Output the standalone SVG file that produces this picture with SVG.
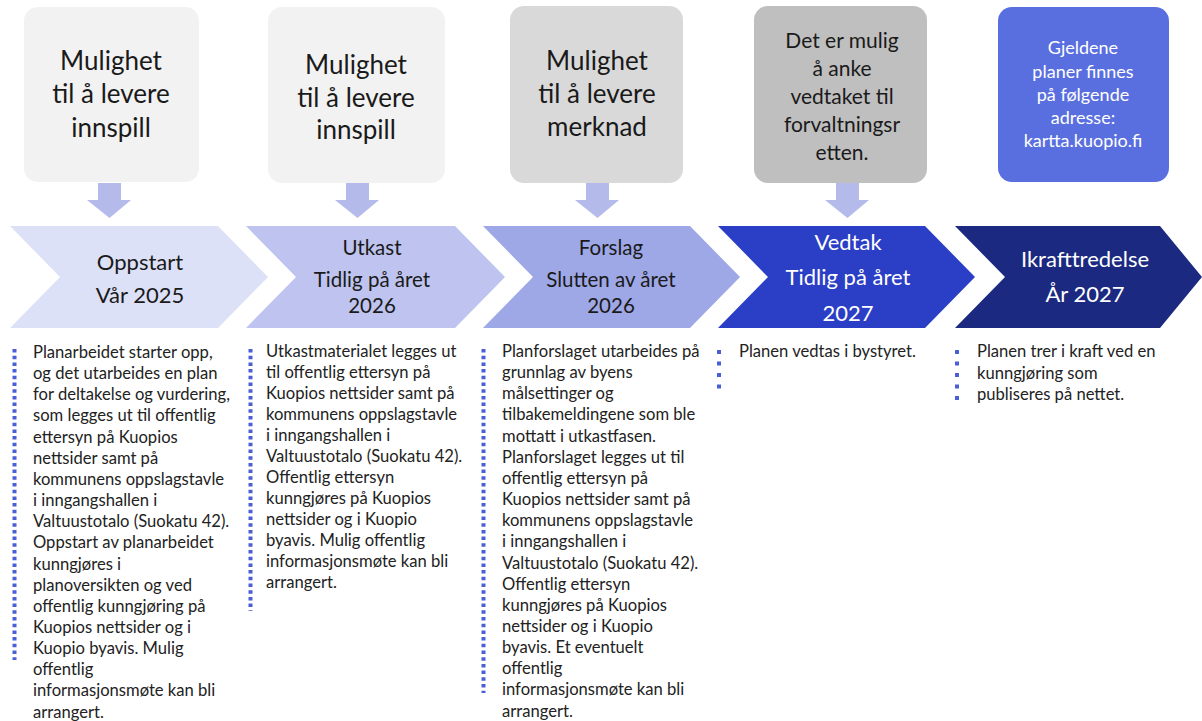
<svg xmlns="http://www.w3.org/2000/svg" width="1202" height="721" viewBox="0 0 1202 721">
<defs>
<style>
.box{stroke:none}
.bt{font-family:Lato,"Open Sans",sans-serif;font-size:26px;fill:#1a1a1a;text-anchor:middle}
.bt4{font-family:Lato,"Open Sans",sans-serif;font-size:21px;fill:#1a1a1a;text-anchor:middle}
.bt5{font-family:Lato,"Open Sans",sans-serif;font-size:18px;fill:#ffffff;text-anchor:middle}
.ct{font-family:Lato,"Open Sans",sans-serif;font-size:22px;fill:#1a1a1a;text-anchor:middle}
.ct3{font-family:Lato,"Open Sans",sans-serif;font-size:20.5px;fill:#1a1a1a;text-anchor:middle}
.ctw{font-family:Lato,"Open Sans",sans-serif;font-size:22px;fill:#ffffff;text-anchor:middle}
.tx{font-family:Lato,"Open Sans",sans-serif;font-size:16.6px;fill:#222222}
.dots{stroke:#4a5fd6;stroke-width:4;stroke-dasharray:3.5 3.2;fill:none}
.dots2{stroke:#4a5fd6;stroke-width:4;stroke-dasharray:4 7.5;fill:none}
.arr{fill:#b4bbeb}
</style>
</defs>
<rect width="1202" height="721" fill="#ffffff"/>

<g id="box1">
<rect class="box" x="24" y="7" width="175" height="175" rx="14" fill="#f2f2f2"/>
<text class="bt" x="111" y="70">Mulighet</text>
<text class="bt" x="111" y="103">til å levere</text>
<text class="bt" x="111" y="137">innspill</text>
</g>
<g id="box2">
<rect class="box" x="268" y="7" width="177" height="176" rx="14" fill="#f2f2f2"/>
<text class="bt" x="356" y="74">Mulighet</text>
<text class="bt" x="356" y="107">til å levere</text>
<text class="bt" x="356" y="139">innspill</text>
</g>
<g id="box3">
<rect class="box" x="510" y="6" width="173" height="177" rx="14" fill="#d9d9d9"/>
<text class="bt" x="597" y="70">Mulighet</text>
<text class="bt" x="597" y="103">til å levere</text>
<text class="bt" x="597" y="136">merknad</text>
</g>
<g id="box4">
<rect class="box" x="754" y="6" width="173" height="177" rx="14" fill="#bfbfbf"/>
<text class="bt4" x="842" y="48">Det er mulig</text>
<text class="bt4" x="842" y="76">å anke</text>
<text class="bt4" x="842" y="104">vedtaket til</text>
<text class="bt4" x="842" y="132">forvaltningsr</text>
<text class="bt4" x="842" y="160">etten.</text>
</g>
<g id="box5">
<rect class="box" x="998" y="7" width="171" height="175" rx="14" fill="#5a6fdf"/>
<text class="bt5" x="1083" y="54">Gjeldene</text>
<text class="bt5" x="1083" y="78">planer finnes</text>
<text class="bt5" x="1083" y="101">på følgende</text>
<text class="bt5" x="1083" y="124">adresse:</text>
<text class="bt5" x="1083" y="147">kartta.kuopio.fi</text>
</g>

<g id="connectors">
<path class="arr" d="M98,183 H121 V200 H131 L109.5,218 L87,200 H98 Z"/>
<path class="arr" d="M346,183 H369 V200 H379 L357.5,218 L335,200 H346 Z"/>
<path class="arr" d="M586,183 H609 V200 H619 L597.5,218 L575,200 H586 Z"/>
<path class="arr" d="M836,183 H859 V200 H869 L847.5,218 L825,200 H836 Z"/>
</g>

<g id="step1">
<polygon points="10,226 218,226 268,277 218,328 10,328 60,277" fill="#dde1f7"/>
<text class="ct" x="140" y="270">Oppstart</text>
<text class="ct" x="140" y="303">Vår 2025</text>
</g>
<g id="step2">
<polygon points="246,226 455,226 505,277 455,328 246,328 296,277" fill="#bec4ef"/>
<text class="ct3" x="372" y="255">Utkast</text>
<text class="ct3" x="372" y="287">Tidlig på året</text>
<text class="ct3" x="372" y="313">2026</text>
</g>
<g id="step3">
<polygon points="483,226 690,226 740,277 690,328 483,328 533,277" fill="#9ea8e7"/>
<text class="ct3" x="611" y="255">Forslag</text>
<text class="ct3" x="611" y="287">Slutten av året</text>
<text class="ct3" x="611" y="313">2026</text>
</g>
<g id="step4">
<polygon points="718,226 925,226 975,277 925,328 718,328 768,277" fill="#2a3ec6"/>
<text class="ctw" x="848" y="250">Vedtak</text>
<text class="ctw" x="848" y="285">Tidlig på året</text>
<text class="ctw" x="848" y="321">2027</text>
</g>
<g id="step5">
<polygon points="955,226 1160,226 1202,277 1160,328 955,328 1005,277" fill="#1b2a80"/>
<text class="ctw" x="1085" y="267">Ikrafttredelse</text>
<text class="ctw" x="1085" y="302">År 2027</text>
</g>

<g id="desc1">
<line class="dots" x1="14.5" y1="349" x2="14.5" y2="660"/>
<text class="tx" x="33" y="358">
<tspan x="33">Planarbeidet starter opp,</tspan>
<tspan x="33" dy="21.15">og det utarbeides en plan</tspan>
<tspan x="33" dy="21.15">for deltakelse og vurdering,</tspan>
<tspan x="33" dy="21.15">som legges ut til offentlig</tspan>
<tspan x="33" dy="21.15">ettersyn på Kuopios</tspan>
<tspan x="33" dy="21.15">nettsider samt på</tspan>
<tspan x="33" dy="21.15">kommunens oppslagstavle</tspan>
<tspan x="33" dy="21.15">i inngangshallen i</tspan>
<tspan x="33" dy="21.15">Valtuustotalo (Suokatu 42).</tspan>
<tspan x="33" dy="21.15">Oppstart av planarbeidet</tspan>
<tspan x="33" dy="21.15">kunngjøres i</tspan>
<tspan x="33" dy="21.15">planoversikten og ved</tspan>
<tspan x="33" dy="21.15">offentlig kunngjøring på</tspan>
<tspan x="33" dy="21.15">Kuopios nettsider og i</tspan>
<tspan x="33" dy="21.15">Kuopio byavis. Mulig</tspan>
<tspan x="33" dy="21.15">offentlig</tspan>
<tspan x="33" dy="21.15">informasjonsmøte kan bli</tspan>
<tspan x="33" dy="21.15">arrangert.</tspan>
</text>
</g>
<g id="desc2">
<line class="dots" x1="250.5" y1="349" x2="250.5" y2="611"/>
<text class="tx" x="266" y="357">
<tspan x="266">Utkastmaterialet legges ut</tspan>
<tspan x="266" dy="21">til offentlig ettersyn på</tspan>
<tspan x="266" dy="21">Kuopios nettsider samt på</tspan>
<tspan x="266" dy="21">kommunens oppslagstavle</tspan>
<tspan x="266" dy="21">i inngangshallen i</tspan>
<tspan x="266" dy="21">Valtuustotalo (Suokatu 42).</tspan>
<tspan x="266" dy="21">Offentlig ettersyn</tspan>
<tspan x="266" dy="21">kunngjøres på Kuopios</tspan>
<tspan x="266" dy="21">nettsider og i Kuopio</tspan>
<tspan x="266" dy="21">byavis. Mulig offentlig</tspan>
<tspan x="266" dy="21">informasjonsmøte kan bli</tspan>
<tspan x="266" dy="21">arrangert.</tspan>
</text>
</g>
<g id="desc3">
<line class="dots" x1="483.5" y1="349" x2="483.5" y2="693"/>
<text class="tx" x="502" y="357">
<tspan x="502">Planforslaget utarbeides på</tspan>
<tspan x="502" dy="21.15">grunnlag av byens</tspan>
<tspan x="502" dy="21.15">målsettinger og</tspan>
<tspan x="502" dy="21.15">tilbakemeldingene som ble</tspan>
<tspan x="502" dy="21.15">mottatt i utkastfasen.</tspan>
<tspan x="502" dy="21.15">Planforslaget legges ut til</tspan>
<tspan x="502" dy="21.15">offentlig ettersyn på</tspan>
<tspan x="502" dy="21.15">Kuopios nettsider samt på</tspan>
<tspan x="502" dy="21.15">kommunens oppslagstavle</tspan>
<tspan x="502" dy="21.15">i inngangshallen i</tspan>
<tspan x="502" dy="21.15">Valtuustotalo (Suokatu 42).</tspan>
<tspan x="502" dy="21.15">Offentlig ettersyn</tspan>
<tspan x="502" dy="21.15">kunngjøres på Kuopios</tspan>
<tspan x="502" dy="21.15">nettsider og i Kuopio</tspan>
<tspan x="502" dy="21.15">byavis. Et eventuelt</tspan>
<tspan x="502" dy="21.15">offentlig</tspan>
<tspan x="502" dy="21.15">informasjonsmøte kan bli</tspan>
<tspan x="502" dy="21.15">arrangert.</tspan>
</text>
</g>
<g id="desc4">
<line class="dots2" x1="719" y1="350" x2="719" y2="390"/>
<text class="tx" x="739" y="357">Planen vedtas i bystyret.</text>
</g>
<g id="desc5">
<line class="dots2" x1="957" y1="350" x2="957" y2="401"/>
<text class="tx" x="977" y="357">
<tspan x="977">Planen trer i kraft ved en</tspan>
<tspan x="977" dy="21.5">kunngjøring som</tspan>
<tspan x="977" dy="21.5">publiseres på nettet.</tspan>
</text>
</g>
</svg>
